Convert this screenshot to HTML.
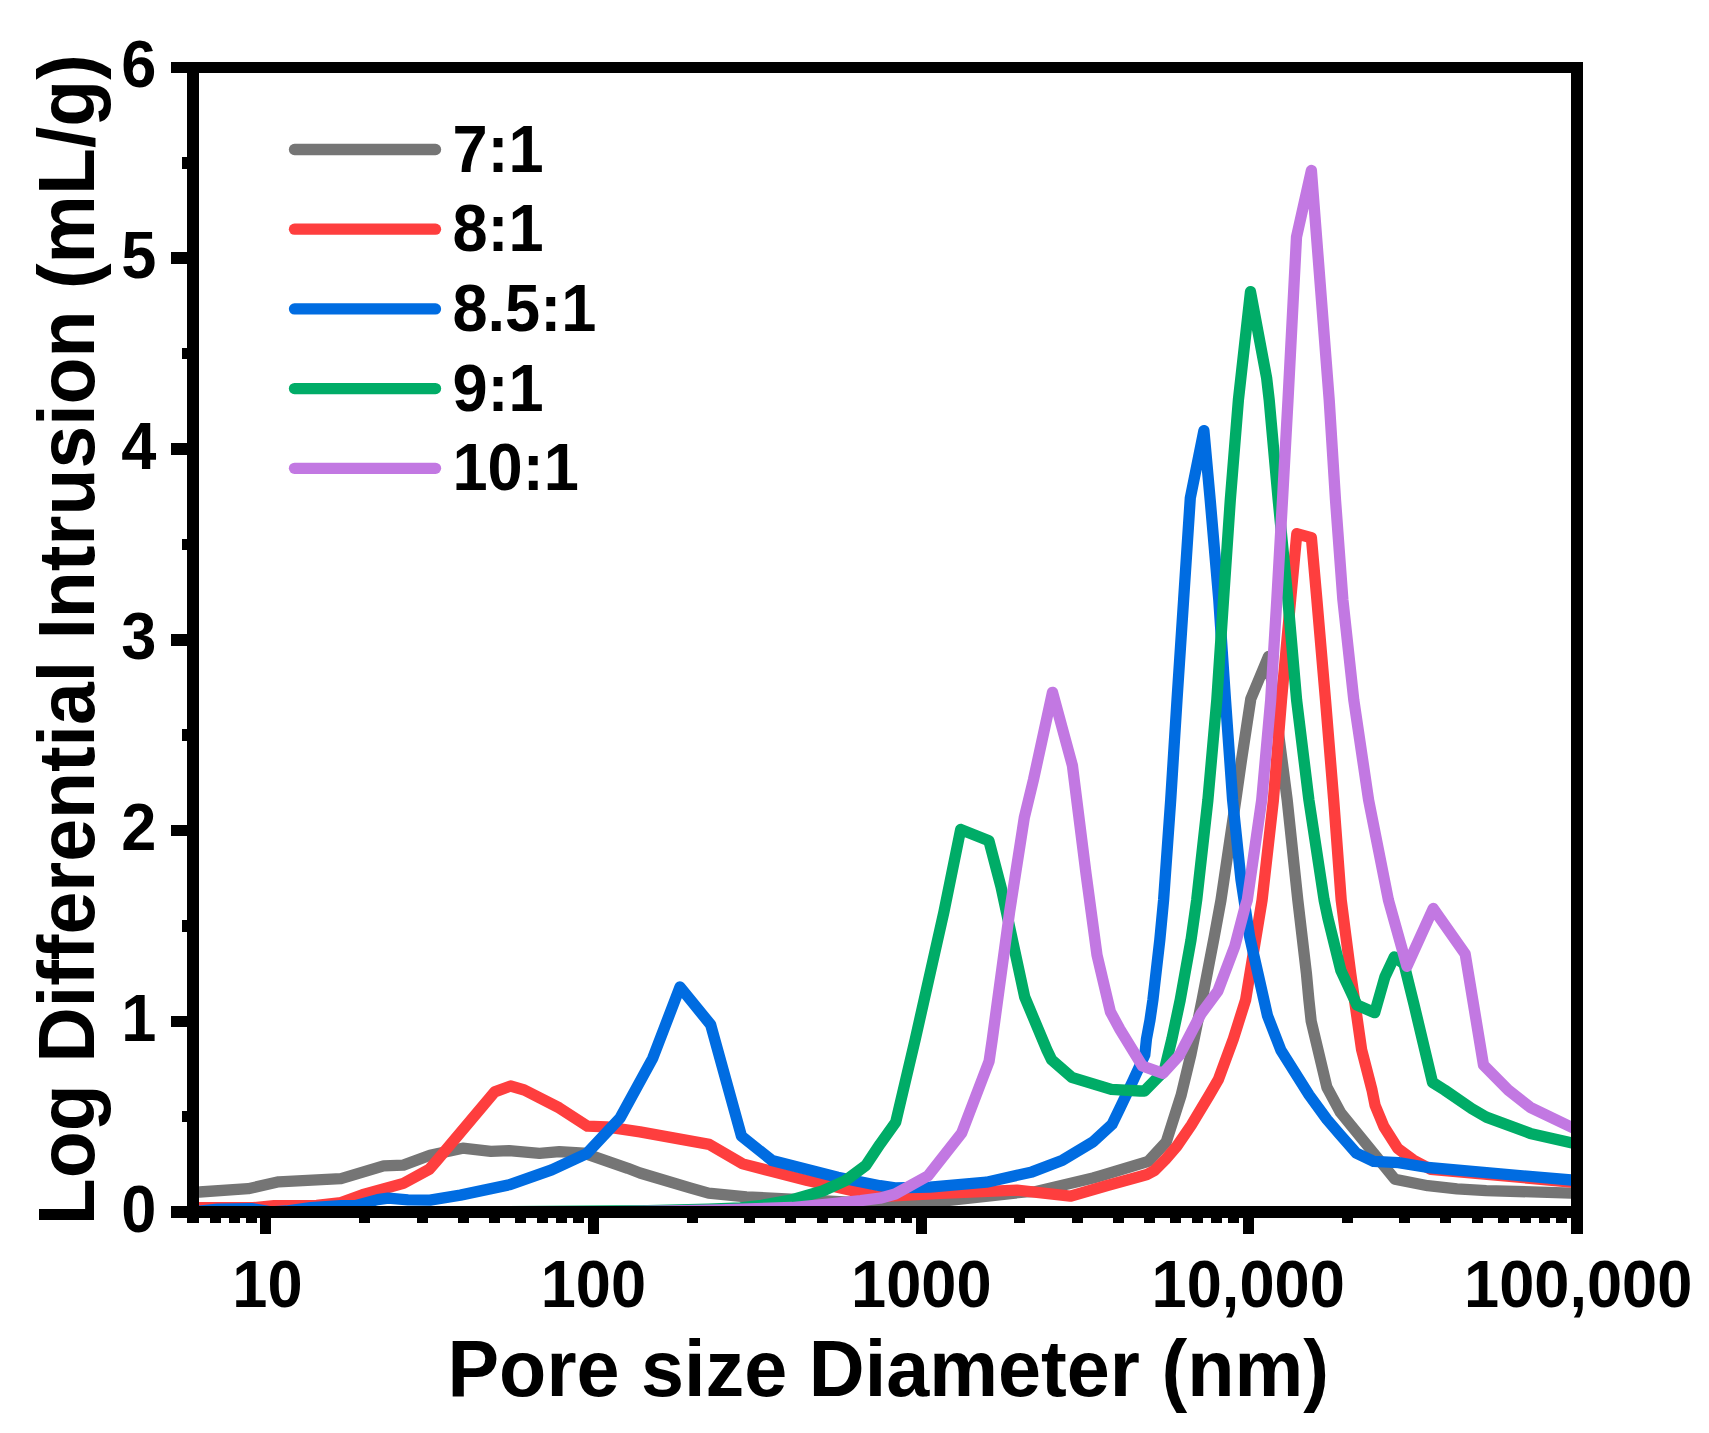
<!DOCTYPE html>
<html><head><meta charset="utf-8"><title>Pore size distribution</title>
<style>
html,body{margin:0;padding:0;background:#fff;}
svg{display:block;}
text{font-family:"Liberation Sans",sans-serif;font-weight:bold;fill:#000;}
.ln{fill:none;stroke-width:11.3;stroke-linejoin:round;stroke-linecap:butt;}
</style></head><body>
<svg width="1709" height="1433" viewBox="0 0 1709 1433">
<rect x="0" y="0" width="1709" height="1433" fill="#fff"/>
<defs><clipPath id="pc"><rect x="193.0" y="67.5" width="1384.0" height="1144.5"/></clipPath></defs>
<g clip-path="url(#pc)">
<polyline class="ln" stroke="#757575" points="187.0,1192.5 199.5,1192.0 248.2,1188.7 278.7,1181.8 341.0,1178.6 383.6,1165.9 403.4,1165.1 430.0,1155.3 462.7,1148.2 490.9,1151.3 509.1,1150.7 539.5,1153.3 559.3,1151.7 584.0,1153.1 627.8,1168.3 640.0,1173.0 690.0,1187.8 708.5,1193.1 746.5,1196.8 786.0,1198.9 830.0,1201.2 880.0,1204.0 910.0,1204.0 951.5,1200.2 1026.0,1191.8 1035.0,1191.7 1093.0,1178.0 1100.0,1176.0 1148.3,1161.3 1166.3,1141.8 1181.2,1095.0 1191.0,1054.1 1202.1,1000.0 1214.3,936.5 1221.0,900.0 1235.8,800.0 1241.4,760.7 1250.8,698.9 1268.5,656.5 1287.2,800.0 1297.8,900.0 1306.5,974.2 1308.9,1000.0 1311.2,1021.3 1326.9,1087.2 1340.5,1112.5 1394.9,1179.2 1427.8,1185.7 1457.0,1188.9 1486.3,1190.6 1571.1,1193.1 1586.0,1193.5"/>
<polyline class="ln" stroke="#FE3E3E" points="187.0,1207.7 252.8,1207.7 274.1,1205.7 316.7,1205.4 341.0,1202.6 362.4,1194.8 403.4,1183.4 429.3,1169.2 436.5,1161.0 494.7,1091.9 510.6,1086.0 524.3,1090.0 559.3,1107.9 587.5,1126.2 606.5,1126.8 640.0,1131.9 709.2,1144.4 742.7,1163.9 772.4,1171.5 807.4,1180.6 860.6,1192.5 880.0,1196.7 940.9,1193.4 1016.9,1190.2 1070.2,1196.2 1108.2,1185.3 1140.0,1176.5 1147.0,1174.5 1154.5,1170.5 1165.4,1159.6 1177.0,1146.0 1191.3,1125.1 1209.4,1095.0 1218.3,1079.7 1233.4,1038.7 1245.6,1000.0 1262.1,900.0 1273.4,800.0 1281.5,700.0 1290.6,600.0 1296.8,533.7 1311.4,537.8 1316.9,600.0 1325.5,700.0 1333.7,800.0 1341.2,900.0 1350.8,974.2 1361.6,1049.6 1372.0,1090.0 1375.1,1105.4 1383.9,1126.6 1397.8,1148.5 1413.1,1159.9 1430.7,1169.3 1571.1,1182.0 1586.0,1183.4"/>
<polyline class="ln" stroke="#006CE1" points="187.0,1211.0 199.5,1211.0 217.8,1209.2 252.8,1208.7 271.0,1211.8 286.3,1211.0 310.6,1207.7 341.0,1205.7 356.3,1205.4 377.6,1199.6 388.2,1198.1 408.0,1199.9 430.0,1200.1 460.4,1195.1 509.1,1184.8 551.7,1169.8 586.7,1153.6 620.2,1117.8 652.8,1058.1 680.0,987.0 710.6,1024.6 741.5,1136.2 772.0,1160.5 837.8,1177.3 880.0,1185.7 895.0,1187.9 930.0,1187.1 986.5,1182.2 1032.1,1171.9 1062.6,1160.2 1093.0,1141.9 1112.0,1124.4 1120.0,1108.0 1132.9,1080.9 1144.8,1055.0 1146.5,1038.7 1150.0,1020.0 1152.9,1000.0 1159.8,940.0 1163.6,900.0 1170.7,800.0 1177.0,700.0 1183.6,600.0 1190.3,498.0 1203.9,430.6 1210.2,500.0 1218.8,600.0 1225.5,700.0 1232.6,800.0 1241.0,880.0 1249.6,936.5 1267.5,1015.7 1280.9,1050.2 1309.1,1095.0 1326.9,1119.3 1340.0,1134.6 1356.4,1153.2 1373.6,1161.4 1398.5,1162.7 1427.8,1167.5 1571.1,1180.0 1586.0,1181.3"/>
<polyline class="ln" stroke="#00AC67" points="370.0,1212.5 647.6,1210.6 708.5,1209.1 740.4,1207.8 761.7,1205.3 792.1,1199.7 822.6,1191.0 845.4,1180.6 865.9,1165.4 880.0,1144.2 895.7,1122.2 915.1,1040.0 943.9,911.9 960.7,829.4 988.9,840.7 1001.0,886.9 1024.7,997.0 1046.9,1050.0 1051.6,1059.8 1071.7,1077.3 1111.3,1089.4 1140.0,1091.0 1144.5,1091.0 1164.1,1071.0 1172.0,1038.7 1180.2,1000.0 1191.0,940.0 1196.7,900.0 1207.9,800.0 1216.8,700.0 1223.5,600.0 1230.3,500.0 1238.4,400.0 1250.5,291.7 1266.6,377.7 1269.2,400.0 1278.2,500.0 1287.9,600.0 1296.6,700.0 1308.9,800.0 1324.1,900.0 1327.8,917.7 1340.8,970.4 1357.0,1005.0 1374.7,1012.7 1384.8,977.2 1394.3,956.8 1404.0,964.0 1413.9,1004.0 1432.5,1082.4 1444.6,1090.0 1471.7,1108.7 1486.3,1117.1 1530.2,1133.4 1571.1,1142.7 1586.0,1146.0"/>
<polyline class="ln" stroke="#C278E2" points="560.0,1212.5 670.4,1210.9 719.1,1209.8 792.1,1207.5 837.8,1203.0 860.6,1200.7 880.0,1198.2 895.2,1194.0 927.9,1175.9 961.7,1133.1 989.1,1061.3 992.2,1040.0 1009.6,911.9 1024.3,817.7 1033.4,780.0 1052.5,692.3 1072.4,765.5 1086.1,874.2 1097.0,955.0 1110.4,1011.7 1120.0,1029.5 1142.4,1066.0 1163.0,1073.3 1179.5,1055.2 1201.0,1013.8 1218.0,990.8 1234.9,945.9 1244.7,908.3 1247.3,900.0 1261.7,800.0 1270.7,700.0 1276.8,600.0 1282.5,500.0 1288.0,400.0 1296.5,237.1 1311.4,170.5 1329.2,400.0 1335.5,500.0 1342.9,600.0 1353.8,700.0 1368.6,800.0 1388.4,900.0 1406.9,966.3 1433.2,908.5 1465.2,954.1 1483.5,1065.1 1508.2,1090.0 1530.2,1107.3 1571.1,1127.0 1586.0,1134.0"/>
</g>
<rect x="187.0" y="62.0" width="12.0" height="1156.0" fill="#000"/>
<rect x="1571.0" y="62.0" width="12.0" height="1156.0" fill="#000"/>
<rect x="187.0" y="62.0" width="1396.0" height="11.0" fill="#000"/>
<rect x="187.0" y="1206.0" width="1396.0" height="12.0" fill="#000"/>
<rect x="171.0" y="1206.0" width="17.0" height="12.0" fill="#000"/>
<rect x="182.0" y="1111.0" width="6.0" height="11.0" fill="#000"/>
<rect x="171.0" y="1016.0" width="17.0" height="11.0" fill="#000"/>
<rect x="182.0" y="920.0" width="6.0" height="12.0" fill="#000"/>
<rect x="171.0" y="825.0" width="17.0" height="11.0" fill="#000"/>
<rect x="182.0" y="729.0" width="6.0" height="12.0" fill="#000"/>
<rect x="171.0" y="634.0" width="17.0" height="12.0" fill="#000"/>
<rect x="182.0" y="539.0" width="6.0" height="11.0" fill="#000"/>
<rect x="171.0" y="443.0" width="17.0" height="12.0" fill="#000"/>
<rect x="182.0" y="348.0" width="6.0" height="11.0" fill="#000"/>
<rect x="171.0" y="252.0" width="17.0" height="12.0" fill="#000"/>
<rect x="182.0" y="157.0" width="6.0" height="12.0" fill="#000"/>
<rect x="171.0" y="62.0" width="17.0" height="11.0" fill="#000"/>
<rect x="187.0" y="1217.0" width="12.0" height="6.0" fill="#000"/>
<rect x="210.0" y="1217.0" width="11.0" height="6.0" fill="#000"/>
<rect x="229.0" y="1217.0" width="11.0" height="6.0" fill="#000"/>
<rect x="246.0" y="1217.0" width="11.0" height="6.0" fill="#000"/>
<rect x="260.0" y="1217.0" width="11.0" height="17.0" fill="#000"/>
<rect x="359.0" y="1217.0" width="11.0" height="6.0" fill="#000"/>
<rect x="417.0" y="1217.0" width="11.0" height="6.0" fill="#000"/>
<rect x="458.0" y="1217.0" width="11.0" height="6.0" fill="#000"/>
<rect x="489.0" y="1217.0" width="11.0" height="6.0" fill="#000"/>
<rect x="515.0" y="1217.0" width="11.0" height="6.0" fill="#000"/>
<rect x="537.0" y="1217.0" width="11.0" height="6.0" fill="#000"/>
<rect x="556.0" y="1217.0" width="11.0" height="6.0" fill="#000"/>
<rect x="573.0" y="1217.0" width="11.0" height="6.0" fill="#000"/>
<rect x="588.0" y="1217.0" width="11.0" height="17.0" fill="#000"/>
<rect x="687.0" y="1217.0" width="11.0" height="6.0" fill="#000"/>
<rect x="744.0" y="1217.0" width="11.0" height="6.0" fill="#000"/>
<rect x="785.0" y="1217.0" width="11.0" height="6.0" fill="#000"/>
<rect x="817.0" y="1217.0" width="11.0" height="6.0" fill="#000"/>
<rect x="843.0" y="1217.0" width="11.0" height="6.0" fill="#000"/>
<rect x="865.0" y="1217.0" width="11.0" height="6.0" fill="#000"/>
<rect x="884.0" y="1217.0" width="11.0" height="6.0" fill="#000"/>
<rect x="901.0" y="1217.0" width="11.0" height="6.0" fill="#000"/>
<rect x="916.0" y="1217.0" width="11.0" height="17.0" fill="#000"/>
<rect x="1014.0" y="1217.0" width="11.0" height="6.0" fill="#000"/>
<rect x="1072.0" y="1217.0" width="11.0" height="6.0" fill="#000"/>
<rect x="1113.0" y="1217.0" width="11.0" height="6.0" fill="#000"/>
<rect x="1144.0" y="1217.0" width="11.0" height="6.0" fill="#000"/>
<rect x="1170.0" y="1217.0" width="11.0" height="6.0" fill="#000"/>
<rect x="1192.0" y="1217.0" width="11.0" height="6.0" fill="#000"/>
<rect x="1211.0" y="1217.0" width="11.0" height="6.0" fill="#000"/>
<rect x="1228.0" y="1217.0" width="11.0" height="6.0" fill="#000"/>
<rect x="1243.0" y="1217.0" width="11.0" height="17.0" fill="#000"/>
<rect x="1342.0" y="1217.0" width="11.0" height="6.0" fill="#000"/>
<rect x="1399.0" y="1217.0" width="11.0" height="6.0" fill="#000"/>
<rect x="1440.0" y="1217.0" width="11.0" height="6.0" fill="#000"/>
<rect x="1472.0" y="1217.0" width="11.0" height="6.0" fill="#000"/>
<rect x="1498.0" y="1217.0" width="11.0" height="6.0" fill="#000"/>
<rect x="1520.0" y="1217.0" width="11.0" height="6.0" fill="#000"/>
<rect x="1539.0" y="1217.0" width="11.0" height="6.0" fill="#000"/>
<rect x="1556.0" y="1217.0" width="11.0" height="6.0" fill="#000"/>
<rect x="1571.0" y="1217.0" width="12.0" height="17.0" fill="#000"/>
<text transform="translate(156.5,1231.5) scale(0.961,1)" text-anchor="end" font-size="65.76">0</text>
<text transform="translate(156.5,1040.8) scale(0.961,1)" text-anchor="end" font-size="65.76">1</text>
<text transform="translate(156.5,850.0) scale(0.961,1)" text-anchor="end" font-size="65.76">2</text>
<text transform="translate(156.5,659.2) scale(0.961,1)" text-anchor="end" font-size="65.76">3</text>
<text transform="translate(156.5,468.5) scale(0.961,1)" text-anchor="end" font-size="65.76">4</text>
<text transform="translate(156.5,277.8) scale(0.961,1)" text-anchor="end" font-size="65.76">5</text>
<text transform="translate(156.5,87.0) scale(0.961,1)" text-anchor="end" font-size="65.76">6</text>
<text transform="translate(267.5,1307.1) scale(0.961,1)" text-anchor="middle" font-size="65.76">10</text>
<text transform="translate(593.4,1307.1) scale(0.961,1)" text-anchor="middle" font-size="65.76">100</text>
<text transform="translate(921.3,1307.1) scale(0.961,1)" text-anchor="middle" font-size="65.76">1000</text>
<text transform="translate(1248.2,1307.1) scale(0.961,1)" text-anchor="middle" font-size="65.76">10,000</text>
<text transform="translate(1578.2,1307.1) scale(0.961,1)" text-anchor="middle" font-size="65.76">100,000</text>
<text transform="translate(888.3,1395.9) scale(0.961,1)" text-anchor="middle" font-size="80.53">Pore size Diameter (nm)</text>
<text transform="translate(93.8,639.6) rotate(-90) scale(0.961,1)" text-anchor="middle" font-size="80.07">Log Differential Intrusion (mL/g)</text>
<line x1="294.5" y1="149.5" x2="435.5" y2="149.5" stroke="#757575" stroke-width="11.3" stroke-linecap="round"/>
<text transform="translate(452.4,171.5) scale(0.961,1)" text-anchor="start" font-size="65.76">7:1</text>
<line x1="294.5" y1="229.2" x2="435.5" y2="229.2" stroke="#FE3E3E" stroke-width="11.3" stroke-linecap="round"/>
<text transform="translate(452.4,251.2) scale(0.961,1)" text-anchor="start" font-size="65.76">8:1</text>
<line x1="294.5" y1="308.9" x2="435.5" y2="308.9" stroke="#006CE1" stroke-width="11.3" stroke-linecap="round"/>
<text transform="translate(452.4,330.9) scale(0.961,1)" text-anchor="start" font-size="65.76">8.5:1</text>
<line x1="294.5" y1="388.6" x2="435.5" y2="388.6" stroke="#00AC67" stroke-width="11.3" stroke-linecap="round"/>
<text transform="translate(452.4,410.6) scale(0.961,1)" text-anchor="start" font-size="65.76">9:1</text>
<line x1="294.5" y1="468.3" x2="435.5" y2="468.3" stroke="#C278E2" stroke-width="11.3" stroke-linecap="round"/>
<text transform="translate(452.4,490.3) scale(0.961,1)" text-anchor="start" font-size="65.76">10:1</text>
</svg></body></html>
